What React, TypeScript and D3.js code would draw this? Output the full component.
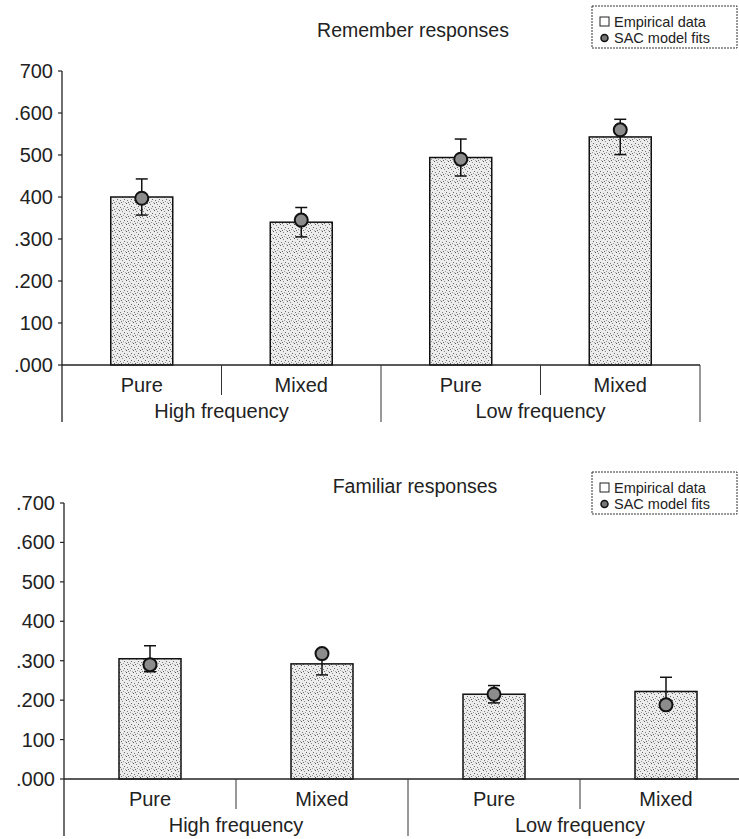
import React from "react";
import * as d3 from "d3";

const subCategories = ["Pure", "Mixed", "Pure", "Mixed"];
const groups = ["High frequency", "Low frequency"];
const rememberBars = [0.4, 0.34, 0.494, 0.543];
const rememberErr = [0.043, 0.035, 0.044, 0.042];
const rememberFits = [0.397, 0.345, 0.49, 0.56];
const familiarBars = [0.305, 0.292, 0.215, 0.222];
const familiarErr = [0.033, 0.028, 0.022, 0.036];
const familiarFits = [0.29, 0.318, 0.215, 0.188];
const tickValues = [0, 0.1, 0.2, 0.3, 0.4, 0.5, 0.6, 0.7];
const rememberTickLabels = [".000", "100", ".200", ".300", "400", "500", ".600", "700"];
const familiarTickLabels = [".000", "100", ".200", ".300", "400", "500", ".600", ".700"];
const legendLabels = ["Empirical data", "SAC model fits"];

const FONT = "'Liberation Sans', Arial, sans-serif";

type PanelProps = {
  title: string;
  bars: number[];
  errs: number[];
  fits: number[];
  tickLabels: string[];
  x0: number;
  x1: number;
  yTop: number;
  yBase: number;
  titleY: number;
  titleX: number;
  legendY: number;
  rightDivider: boolean;
};

function Panel(p: PanelProps) {
  const y = d3.scaleLinear().domain([0, 0.7]).range([p.yBase, p.yTop]);
  const x = d3.scaleBand<number>().domain([0, 1, 2, 3]).range([p.x0, p.x1]).paddingInner(0).paddingOuter(0);
  const bw = 62;
  const bandW = x.bandwidth();
  const subRowY = p.yBase + 27;
  const grpRowY = p.yBase + 53;
  return (
    <g>
      <text x={p.titleX} y={p.titleY} textAnchor="middle" fontSize={19.5} fontFamily={FONT} fill="#222">{p.title}</text>
      {/* legend */}
      <g transform={`translate(592,${p.legendY})`}>
        <rect x={0} y={0} width={145} height={42} fill="white" stroke="#333" strokeWidth={1} strokeDasharray="2,1" />
        <rect x={8} y={11} width={9} height={9} fill="white" stroke="#222" strokeWidth={1} />
        <text x={22} y={20.5} fontSize={14.5} fontFamily={FONT} fill="#222">{legendLabels[0]}</text>
        <circle cx={12.5} cy={32} r={3.5} fill="#777" stroke="#111" strokeWidth={1.5} />
        <text x={22} y={37} fontSize={14.5} fontFamily={FONT} fill="#222">{legendLabels[1]}</text>
      </g>
      {/* y axis */}
      <line x1={p.x0} x2={p.x0} y1={y(0.7)} y2={grpRowY + 4} stroke="#222" strokeWidth={1.3} />
      {tickValues.map((t, i) => (
        <g key={i}>
          <line x1={p.x0 - 4} x2={p.x0} y1={y(t)} y2={y(t)} stroke="#222" strokeWidth={1.2} />
          <text x={p.x0 - 9} y={y(t) + 7} textAnchor="end" fontSize={20} fontFamily={FONT} fill="#222">{p.tickLabels[i]}</text>
        </g>
      ))}
      {/* bars */}
      {p.bars.map((v, i) => {
        const cx = (x(i) as number) + bandW / 2;
        return (
          <rect key={i} x={cx - bw / 2} y={y(v)} width={bw} height={y(0) - y(v)} fill="url(#stipple)" stroke="#111" strokeWidth={1.5} />
        );
      })}
      {/* baseline */}
      <line x1={p.x0} x2={p.x1} y1={p.yBase} y2={p.yBase} stroke="#222" strokeWidth={1.3} />
      {/* error bars */}
      {p.bars.map((v, i) => {
        const cx = (x(i) as number) + bandW / 2;
        const lo = y(v - p.errs[i]);
        const hi = y(v + p.errs[i]);
        return (
          <g key={i} stroke="#111" strokeWidth={1.5}>
            <line x1={cx} x2={cx} y1={lo} y2={hi} />
            <line x1={cx - 6} x2={cx + 6} y1={lo} y2={lo} />
            <line x1={cx - 6} x2={cx + 6} y1={hi} y2={hi} />
          </g>
        );
      })}
      {/* fits */}
      {p.fits.map((v, i) => {
        const cx = (x(i) as number) + bandW / 2;
        return <circle key={i} cx={cx} cy={y(v)} r={6.5} fill="#8c8c8c" stroke="#111" strokeWidth={2} />;
      })}
      {/* category dividers */}
      {[1, 3].map((i) => (
        <line key={i} x1={x(i) as number} x2={x(i) as number} y1={p.yBase} y2={subRowY + 3} stroke="#333" strokeWidth={1} />
      ))}
      <line x1={x(2) as number} x2={x(2) as number} y1={p.yBase} y2={grpRowY + 4} stroke="#333" strokeWidth={1} />
      {p.rightDivider && (
        <line x1={p.x1} x2={p.x1} y1={p.yBase} y2={grpRowY + 4} stroke="#333" strokeWidth={1} />
      )}
      {subCategories.map((c, i) => (
        <text key={i} x={(x(i) as number) + bandW / 2} y={subRowY} textAnchor="middle" fontSize={20} fontFamily={FONT} fill="#222">{c}</text>
      ))}
      {groups.map((g, i) => (
        <text key={i} x={(x(i * 2) as number) + bandW} y={grpRowY} textAnchor="middle" fontSize={20} fontFamily={FONT} fill="#222">{g}</text>
      ))}
    </g>
  );
}

export default function App() {
  return (
    <svg width={739} height={839} style={{ position: "absolute", left: 0, top: 0, background: "white" }}>
      <defs>
        <pattern id="stipple" width={7} height={7} patternUnits="userSpaceOnUse">
          <rect width={7} height={7} fill="#ececec" />
          <rect x={0} y={0} width={1} height={1} fill="#555" />
          <rect x={3} y={1} width={1} height={1} fill="#888" />
          <rect x={5} y={3} width={1} height={1} fill="#666" />
          <rect x={1} y={4} width={1} height={1} fill="#777" />
          <rect x={4} y={5} width={1} height={1} fill="#999" />
          <rect x={6} y={6} width={1} height={1} fill="#aaa" />
          <rect x={2} y={6} width={1} height={1} fill="#666" />
        </pattern>
      </defs>
      <Panel
        title="Remember responses"
        bars={rememberBars}
        errs={rememberErr}
        fits={rememberFits}
        tickLabels={rememberTickLabels}
        x0={62}
        x1={700}
        yTop={71}
        yBase={365}
        titleX={413}
        titleY={37}
        legendY={6}
        rightDivider={true}
      />
      <Panel
        title="Familiar responses"
        bars={familiarBars}
        errs={familiarErr}
        fits={familiarFits}
        tickLabels={familiarTickLabels}
        x0={64}
        x1={752}
        yTop={503}
        yBase={779}
        titleX={415}
        titleY={493}
        legendY={472}
        rightDivider={false}
      />
    </svg>
  );
}
